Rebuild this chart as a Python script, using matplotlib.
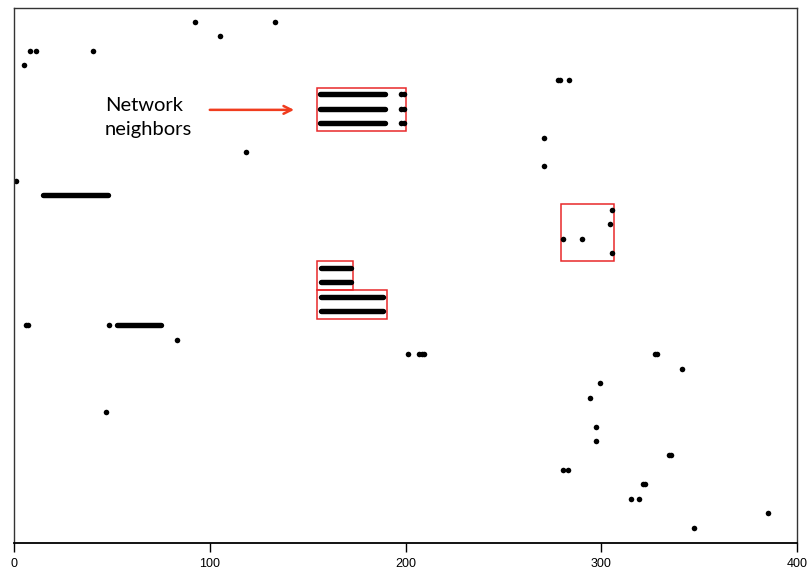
import matplotlib
matplotlib.use("Agg")
import matplotlib.pyplot as plt
from matplotlib.patches import Rectangle

# single nodes: (row, x)
dot_rows = [1, 1, 2, 3, 3, 3, 4, 5, 5, 5,
            6, 6, 7, 7, 8, 8,
            9, 10, 11, 12, 14, 15, 16, 16, 17,
            22, 22, 22, 23, 24, 24, 24, 24, 24, 24,
            25, 26, 27, 28, 29, 30, 31, 31, 32, 32,
            33, 33, 34, 34, 35, 36]
dot_x = [92.5, 133.5, 105, 8.2, 11.2, 40.3, 5.3, 278, 279, 283.6,
         197.5, 199, 197.5, 199, 197.5, 199,
         271, 118.3, 271, 1.0, 305.3, 304.4, 280.5, 290.4, 305.5,
         6.0, 7.0, 48.7, 83.2, 201.2, 207, 208.5, 209.5, 327.4, 328.4,
         341.3, 299.3, 294.3, 47, 297.5, 297.5, 334.4, 335.4, 280.5, 283,
         321.3, 322.6, 315.1, 319.4, 385.4, 347.5]

# runs of consecutive nodes: row, first x, last x
run_rows = [6, 7, 8, 13, 18, 19, 20, 21, 22]
run_start = [156.3, 156.3, 156.3, 14.6, 156.7, 156.7, 156.7, 156.7, 52.7]
run_end = [189.5, 189.5, 189.5, 48.1, 172.0, 172.0, 188.5, 188.5, 75.0]

xticks = [0, 100, 200, 300, 400]

fig = plt.figure(figsize=(8.08, 5.73), dpi=100)
ax = fig.add_axes([14 / 808, 30 / 573, 783 / 808, 535 / 573])

for r, a, b in zip(run_rows, run_start, run_end):
    ax.plot([a, b], [r, r], color="black", lw=3.9, solid_capstyle="round")
ax.plot(dot_x, dot_rows, "o", color="black", ms=4.0, mew=0, ls="none")

# highlight boxes
red = "#e8282a"
boxes = [(155, 5.57, 45.2, 2.97), (155, 17.54, 18.3, 1.99),
         (155, 19.57, 35.3, 1.98), (279.4, 13.57, 26.9, 3.97)]
for x0, y0, w, h in boxes:
    ax.add_patch(Rectangle((x0, y0), w, h, fill=False, ec=red, lw=1.1))

ax.annotate("", xy=(144.5, 7.08), xytext=(98.6, 7.08),
            arrowprops=dict(arrowstyle="->", color="#f03c1e", lw=1.8,
                            mutation_scale=14))
ax.text(46.5, 7.6, "Network\nneighbors", fontsize=14.5, family=["Lato", "DejaVu Sans"],
        va="center", ha="left", linespacing=1.55)

ax.set_xlim(0, 400)
ax.set_ylim(37.06, 0.03)
ax.set_xticks(xticks)
ax.set_xticklabels([str(t) for t in xticks], fontsize=9,
                   family=["Liberation Sans Narrow", "Liberation Sans"])
ax.set_yticks([])
ax.tick_params(axis="x", direction="out", length=6.5, width=1, pad=4)
for s in ax.spines.values():
    s.set_linewidth(1)
    s.set_color("#333333")
ax.spines["bottom"].set_color("black")
ax.spines["bottom"].set_linewidth(1.3)

fig.savefig("out.png", dpi=100)
